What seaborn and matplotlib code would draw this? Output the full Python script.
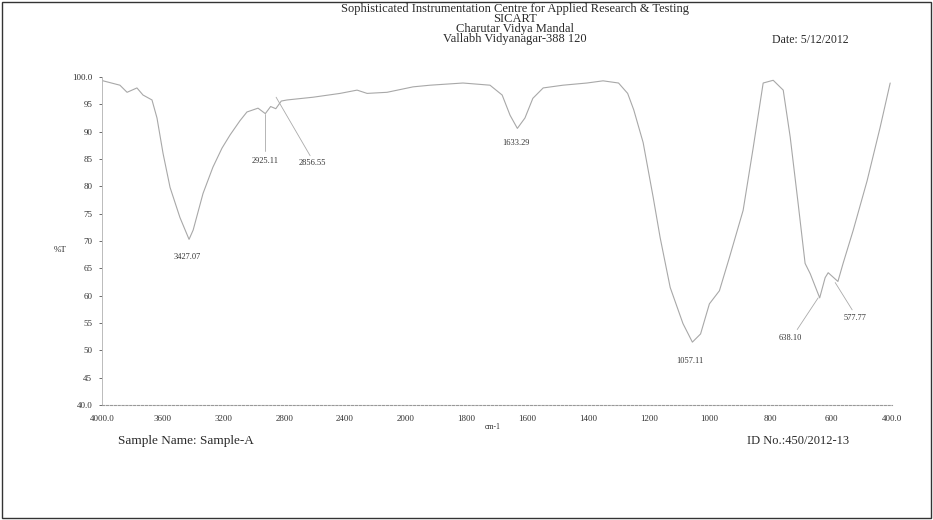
import numpy as np
import pandas as pd
import matplotlib
matplotlib.use("Agg")
import matplotlib.pyplot as plt
import seaborn as sns

# ---------------------------------------------------------
# Spectrum data
# ---------------------------------------------------------
wavenumber = [4000, 3993, 3882, 3835, 3770, 3730, 3671, 3638, 3598, 3552,
              3487, 3427, 3400, 3335, 3270, 3210, 3157, 3092, 3046, 2973,
              2925, 2890, 2856, 2820, 2782, 2611, 2433, 2321, 2255, 2124,
              1976, 1920, 1812, 1723, 1683, 1657, 1633, 1608, 1582, 1548,
              1483, 1404, 1351, 1300, 1270, 1250, 1219, 1186, 1163, 1130,
              1088, 1057, 1030, 1001, 968, 935, 890, 857, 824, 791,
              758, 735, 709, 686, 669, 638, 620, 610, 578, 561,
              528, 482, 439, 406]
transmittance = [99.5, 99.3, 98.5, 97.2, 98.0, 96.7, 95.8, 92.5, 86.0, 79.8,
                 74.3, 70.3, 72.0, 78.7, 83.5, 87.0, 89.4, 92.0, 93.6, 94.3,
                 93.3, 94.6, 94.2, 95.6, 95.8, 96.3, 97.0, 97.6, 97.0, 97.2,
                 98.2, 98.5, 98.9, 98.5, 96.7, 93.0, 90.6, 92.5, 96.1, 98.0,
                 98.5, 98.9, 99.3, 98.9, 97.0, 94.0, 88.0, 78.0, 70.6, 61.5,
                 54.9, 51.5, 53.0, 58.5, 60.9, 67.0, 75.6, 87.0, 98.9, 99.4,
                 97.6, 89.0, 76.9, 65.9, 64.0, 59.6, 63.3, 64.2, 62.6, 65.9,
                 71.9, 81.0, 90.8, 98.9]

# peak labels: text, label x, label y
peak_text = ["3427.07", "2925.11", "2856.55", "1633.29", "1057.11", "638.10", "577.77"]
peak_lx = [3440, 2925, 2618, 1637, 1065, 735, 521]
peak_ly = [67.0, 84.6, 84.2, 87.9, 48.1, 52.3, 56.0]

x_ticks = [4000, 3600, 3200, 2800, 2400, 2000, 1800, 1600, 1400, 1200, 1000, 800, 600, 400]
x_labels = ["4000.0", "3600", "3200", "2800", "2400", "2000", "1800", "1600",
            "1400", "1200", "1000", "800", "600", "400.0"]
y_ticks = [40, 45, 50, 55, 60, 65, 70, 75, 80, 85, 90, 95, 100]
y_labels = ["40.0", "45", "50", "55", "60", "65", "70", "75", "80", "85", "90", "95", "100.0"]

header_lines = ["Sophisticated Instrumentation Centre for Applied Research & Testing",
                "SICART", "Charutar Vidya Mandal", "Vallabh Vidyanagar-388 120"]

sns.set_theme(style="white")
plt.rcParams['font.family'] = ['Liberation Serif', 'DejaVu Serif']

df = pd.DataFrame({"wn": wavenumber, "T": transmittance})

fig = plt.figure(figsize=(9.33, 5.20), dpi=100)
ax = fig.add_axes([102 / 933, 1 - 405 / 520, 790 / 933, 328 / 520])


# FTIR chart: half scale above 2000 cm-1
def fwd(x):
    x = np.asarray(x, dtype=float)
    return np.where(x > 2000, 2000 + (x - 2000) / 2, x)


def inv(y):
    y = np.asarray(y, dtype=float)
    return np.where(y > 2000, 2000 + 2 * (y - 2000), y)


ax.set_xscale('function', functions=(fwd, inv))
sns.lineplot(data=df, x="wn", y="T", sort=False, ax=ax, color="#a8a8a8", linewidth=0.8)

ax.set_xlim(4000, 400)
ax.set_ylim(40, 100)
ax.set_xticks(x_ticks)
ax.set_xticklabels(x_labels)
ax.set_yticks(y_ticks)
ax.set_yticklabels(y_labels)
ax.minorticks_off()
ax.tick_params(axis='both', labelsize=6.5, colors='#333333', length=2, width=0.5, pad=5,
               left=True, bottom=False)
ax.set_xlabel("")
ax.set_ylabel("")
for s in ['top', 'right']:
    ax.spines[s].set_visible(False)
ax.spines['left'].set_color('#bbbbbb')
ax.spines['left'].set_linewidth(0.7)
ax.spines['bottom'].set_color('#999999')
ax.spines['bottom'].set_linewidth(0.8)
ax.spines['bottom'].set_linestyle((0, (2, 1.5)))

# peak annotations
for t, lx, ly in zip(peak_text, peak_lx, peak_ly):
    ax.text(lx, ly, t, fontsize=6, color='#333333', ha='center', va='center')

# leader lines
ax.plot([2925, 2925], [93.3, 86.4], color='#aaaaaa', lw=0.6)
ax.plot([2854, 2630], [96.3, 85.6], color='#aaaaaa', lw=0.6)
ax.plot([712, 643], [53.8, 59.6], color='#aaaaaa', lw=0.6)
ax.plot([587, 531], [62.4, 57.4], color='#aaaaaa', lw=0.6)

# header / footer text
tc = '#2a2a2a'
fig.text(515 / 933, 1 - 3 / 520, "\n".join(header_lines), ha='center', va='top',
         fontsize=9, color=tc, linespacing=0.76)
fig.text(810 / 933, 1 - 40 / 520, "Date: 5/12/2012", ha='center', va='center', fontsize=8.5, color=tc)
fig.text(60 / 933, 1 - 250 / 520, "%T", ha='center', va='center', fontsize=6.5, color=tc)
fig.text(493 / 933, 1 - 427 / 520, "cm-1", ha='center', va='center', fontsize=5.5, color=tc)
fig.text(118 / 933, 1 - 441 / 520, "Sample Name: Sample-A", ha='left', va='center', fontsize=9.5, color=tc)
fig.text(747 / 933, 1 - 441 / 520, "ID No.:450/2012-13", ha='left', va='center', fontsize=9, color=tc)

# thin scan frame around the page
fig.add_artist(plt.Rectangle((2 / 933, 2 / 520), 929 / 933, 516 / 520, fill=False,
                             edgecolor='#333333', lw=1.0, transform=fig.transFigure))

fig.savefig("out.png", dpi=100, facecolor='white')
